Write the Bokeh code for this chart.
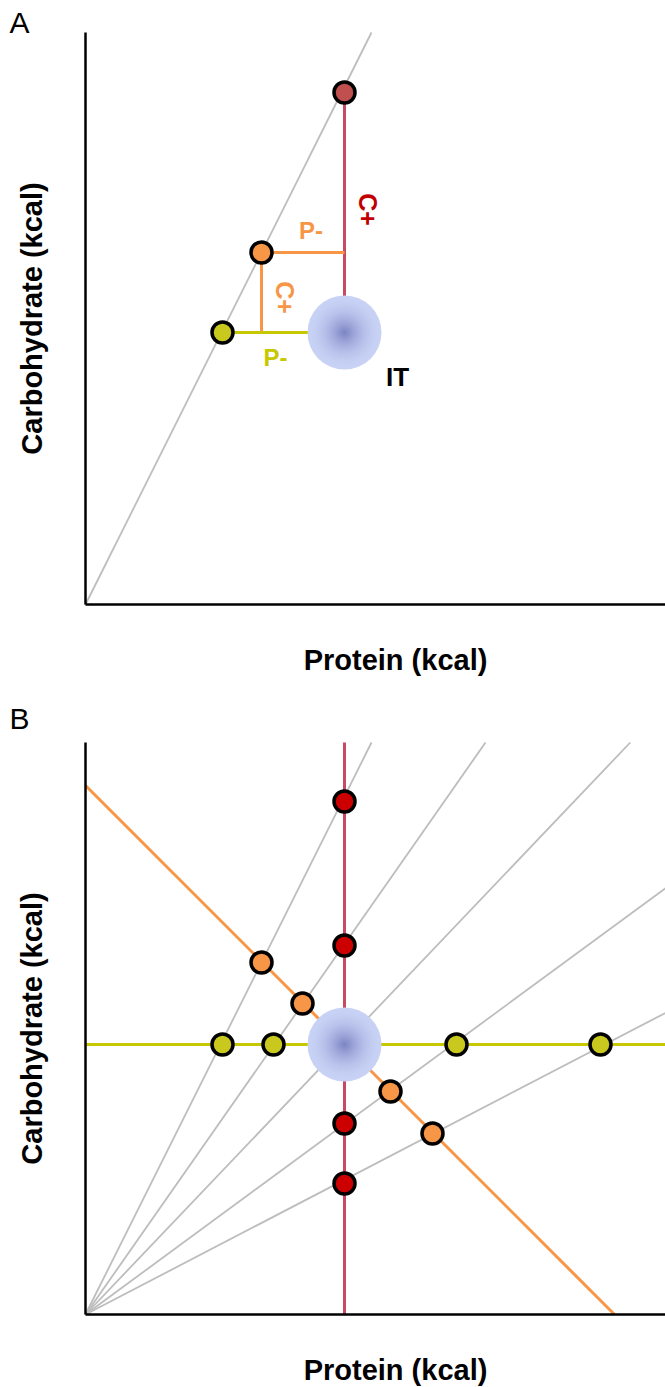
import numpy as np
from bokeh.plotting import figure
from bokeh.models import Label, FixedTicker, Range1d
from bokeh.layouts import column
from bokeh.embed import file_html
from bokeh.resources import INLINE

# ---------------- data (arbitrary kcal units) ----------------
X_MAX = 580
Y_MAX = 572

# Panel A
A_it_x, A_it_y = 259, 272
A_ratio_slope = 2.0
A_red = (259, 512)
A_orange = (176, 352)
A_yellow = (137, 272)

# Panel B
B_it_x, B_it_y = 259, 270
B_ray_slopes = [2.0, 1.43, 1.05, 0.735, 0.52]
B_red_x = [259, 259, 259, 259]
B_red_y = [513, 369, 191, 131]
B_orange_x = [176, 217, 305, 347]
B_orange_y = [352, 311, 223, 181]
B_yellow_x = [137, 188, 371, 515]
B_yellow_y = [270, 270, 270, 270]
B_orange_sum = 529  # protein + carbohydrate constant

x_label = "Protein (kcal)"
y_label = "Carbohydrate (kcal)"

# ---------------- styles ----------------
GREY = "#bdbdbd"
RED_LINE = "#c84a62"
RED_TXT = "#c00000"
RED_PT_A = "#c0504d"
RED_PT_B = "#cc0000"
ORANGE = "#f79646"
YELLOW = "#c8c800"
YELLOW_PT = "#c8c81e"
FONT = "Liberation Sans"
PT_SIZE = 21
PT_LW = 3.5
LEFT_PAD = 85
W = 665


def base_fig(height, bottom_pad):
    top = height - bottom_pad
    p = figure(width=W, height=height,
               x_range=Range1d(-LEFT_PAD, W - LEFT_PAD),
               y_range=Range1d(-bottom_pad, top),
               output_backend="svg", toolbar_location=None,
               min_border=0, min_border_left=0, min_border_right=0,
               min_border_top=0, min_border_bottom=0)
    p.grid.visible = False
    p.outline_line_color = None
    p.background_fill_color = "white"
    p.border_fill_color = "white"
    p.xaxis.fixed_location = 0
    p.xaxis.bounds = (0, X_MAX)
    p.yaxis.fixed_location = 0
    p.yaxis.bounds = (0, Y_MAX)
    for ax in (p.xaxis[0], p.yaxis[0]):
        ax.ticker = FixedTicker(ticks=[])
        ax.axis_line_color = "black"
        ax.axis_line_width = 2.5
        ax.major_tick_line_color = None
        ax.minor_tick_line_color = None
        ax.major_label_text_font_size = "0px"
        ax.major_tick_out = 0
        ax.major_tick_in = 0
        ax.major_label_standoff = 0
    # axis titles
    p.add_layout(Label(x=X_MAX / 2 + 20, y=-55, text=x_label, text_align="center",
                       text_baseline="middle", text_font=FONT, text_font_style="bold",
                       text_font_size="29px", text_color="black"))
    p.add_layout(Label(x=-54, y=Y_MAX / 2, text=y_label, angle=np.pi / 2,
                       text_align="center", text_baseline="middle", text_font=FONT,
                       text_font_style="bold", text_font_size="29px", text_color="black"))
    return p


def blob(p, cx, cy, R=37, n=30):
    edge = np.array([200, 210, 245])
    center = np.array([122, 130, 194])
    for i in range(n):
        s = i / n
        f = s ** 1.8
        c = edge + (center - edge) * f
        col = "#%02x%02x%02x" % tuple(int(round(v)) for v in c)
        p.circle([cx], [cy], radius=R * (1 - s), fill_color=col, line_color=None)


def txt(p, x, y, t, color, size, angle=0, style="bold"):
    p.add_layout(Label(x=x, y=y, text=t, text_color=color, text_font=FONT,
                       text_font_style=style, text_font_size=size, angle=angle,
                       text_align="center", text_baseline="middle"))


# ---------------- Panel A ----------------
pA = base_fig(700, 96)
pA.line([0, Y_MAX / A_ratio_slope], [0, Y_MAX], line_color=GREY, line_width=1.8)
pA.line([A_red[0], A_it_x], [A_red[1], A_it_y], line_color=RED_LINE, line_width=3)
pA.line([A_orange[0], A_red[0]], [A_orange[1], A_orange[1]], line_color=ORANGE, line_width=3)
pA.line([A_orange[0], A_orange[0]], [A_orange[1], A_yellow[1]], line_color=ORANGE, line_width=3)
pA.line([A_yellow[0], A_it_x], [A_yellow[1], A_it_y], line_color=YELLOW, line_width=3)
blob(pA, A_it_x, A_it_y)
pA.scatter([A_red[0], A_orange[0], A_yellow[0]], [A_red[1], A_orange[1], A_yellow[1]],
           size=PT_SIZE, fill_color=[RED_PT_A, ORANGE, YELLOW_PT],
           line_color="black", line_width=PT_LW)
txt(pA, A_red[0] + 23, (A_red[1] + A_it_y) / 2 + 3, "C+", RED_TXT, "25px", angle=-np.pi / 2)
txt(pA, A_orange[0] + 23, (A_orange[1] + A_yellow[1]) / 2 - 5, "C+", ORANGE, "25px", angle=-np.pi / 2)
txt(pA, (A_orange[0] + A_red[0]) / 2 + 8, A_orange[1] + 22, "P-", ORANGE, "24px")
txt(pA, (A_yellow[0] + A_it_x) / 2 - 8, A_yellow[1] - 25, "P-", YELLOW, "24px")
txt(pA, A_it_x + 53, A_it_y - 44, "IT", "black", "26px")
txt(pA, -66, Y_MAX + 10, "A", "black", "30px", style="normal")

# ---------------- Panel B ----------------
pB = base_fig(687, 73)
for s in B_ray_slopes:
    xe = min(X_MAX, Y_MAX / s)
    pB.line([0, xe], [0, xe * s], line_color=GREY, line_width=1.8)
pB.line([B_it_x, B_it_x], [0, Y_MAX], line_color=RED_LINE, line_width=3)
pB.line([0, X_MAX], [B_it_y, B_it_y], line_color=YELLOW, line_width=3)
pB.line([0, B_orange_sum], [B_orange_sum, 0], line_color=ORANGE, line_width=3)
blob(pB, B_it_x, B_it_y)
pB.scatter(B_red_x, B_red_y, size=PT_SIZE, fill_color=RED_PT_B, line_color="black", line_width=PT_LW)
pB.scatter(B_orange_x, B_orange_y, size=PT_SIZE, fill_color=ORANGE, line_color="black", line_width=PT_LW)
pB.scatter(B_yellow_x, B_yellow_y, size=PT_SIZE, fill_color=YELLOW_PT, line_color="black", line_width=PT_LW)
txt(pB, -66, Y_MAX + 24, "B", "black", "30px", style="normal")

layout = column(pA, pB, spacing=0)
open("out.html", "w").write(file_html(layout, INLINE))
